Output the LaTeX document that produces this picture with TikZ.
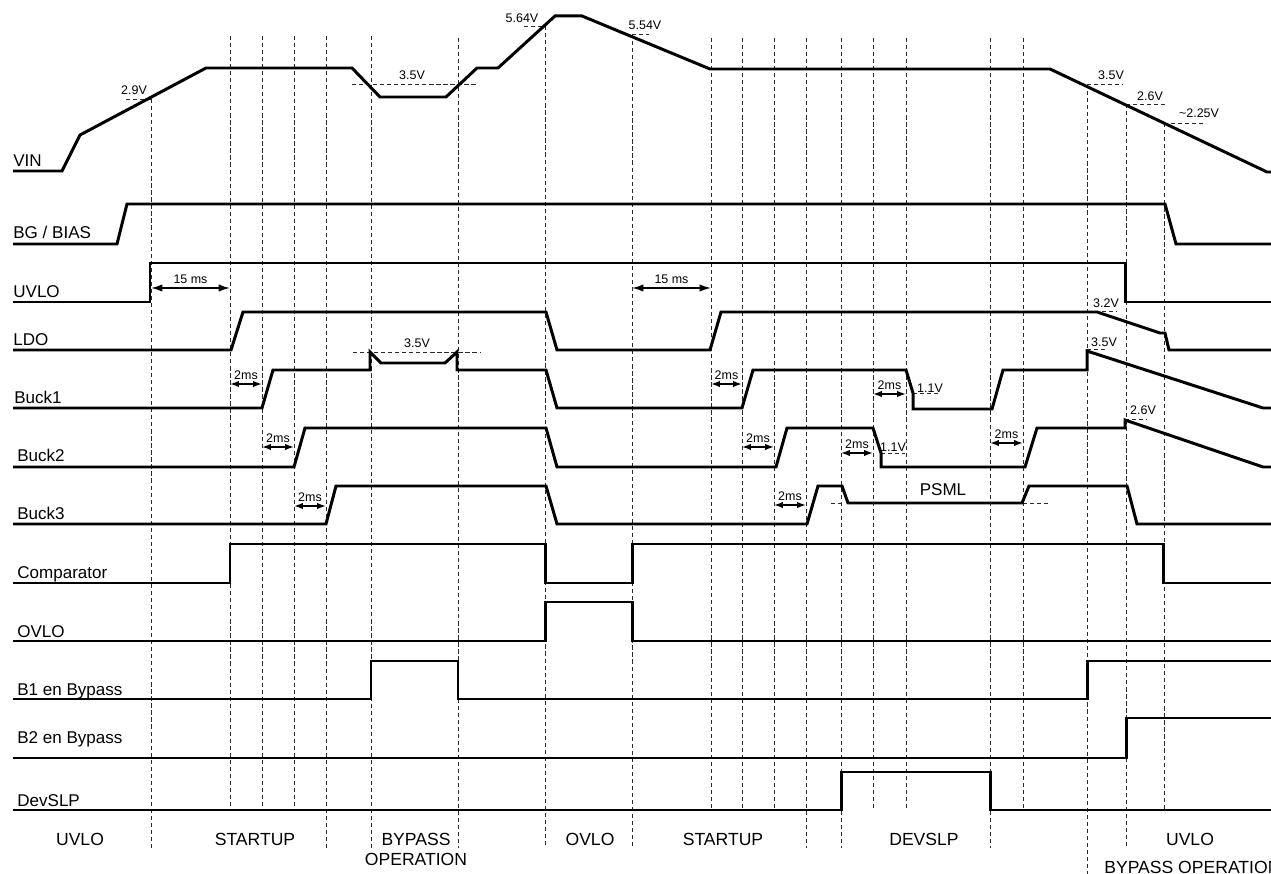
\documentclass[tikz,border=0pt]{standalone}
\usepackage{fontspec}
\setmainfont{Liberation Sans}
\usetikzlibrary{arrows.meta}
\definecolor{TraceInk}{HTML}{000000}
\definecolor{GuideGrey}{HTML}{2A2A2A}
\newcommand{\timegap}[6][gap arrow]{%
  \draw[#1] (#3,#5) -- (#4,#5);
  \node[value label] (#2) at ({(#3+#4)/2},{#5-9}) {#6};
}

\begin{document}
\begin{tikzpicture}[
  x=0.02cm,
  y=-0.02cm,
  >=Latex,
  wave/.style={draw=TraceInk,line width=1.7pt,line join=miter},
  guideline/.style={draw=GuideGrey,line width=0.55pt,dash pattern=on 2.4pt off 1.6pt},
  gap arrow/.style={{Latex[length=5pt,width=3.6pt]}-{Latex[length=5pt,width=3.6pt]},
    draw=TraceInk,line width=0.9pt},
  long gap/.style={gap arrow,{Latex[length=6.5pt,width=4.2pt]}-{Latex[length=6.5pt,width=4.2pt]}},
  signal label/.style={font=\fontsize{9.7}{11}\selectfont,anchor=base west,inner sep=0},
  phase label/.style={font=\fontsize{10}{12}\selectfont,anchor=base,inner sep=0},
  value label/.style={font=\fontsize{7.1}{8}\selectfont,inner sep=0}
]
  \useasboundingbox (0,0) rectangle (1271,874);

  \foreach \gx/\gtop/\gbot in {151/99/848,230/36/810,262/36/810,294/36/810,326/36/848,
    371/36/848,458/38/848,545/26/848,632/34/848,711/38/810,742/38/810,774/38/810,
    806/38/848,841/38/848,873/38/810,906/38/810,990/38/848,1023/38/810,1087/84/874,
    1126/104/848,1164/123/810} {
    \draw[guideline] (\gx,\gtop) -- (\gx,\gbot);
  }

  \foreach \lx/\rx/\ly in {126/151/99,352/477/84,524/545/26,632/649/34,1087/1123/84,
    1126/1165/104,1164/1204/123,1088/1117/311,353/480/352,913/938/393,881/905/453,
    1087/1108/349,1125/1147/419,831/842/503,1023/1048/503} {
    \draw[guideline] (\lx,\ly) -- (\rx,\ly);
  }

  \draw[wave] (13,171) -- (62,171) -- (80,135) -- (206,68) -- (352,68) -- (380,97)
    -- (446,97) -- (477,68) -- (498,68) -- (555,16) -- (582,16) -- (710,69)
    -- (1050,69) -- (1267,172) -- (1271,172);
  \draw[wave] (13,244) -- (117,244) -- (127,204) -- (1165,204) -- (1176,244) -- (1271,244);
  \draw[wave] (13,302) -- (150,302) -- (150,263) -- (1125,263) -- (1125,302) -- (1271,302);
  \draw[wave] (13,350) -- (231,350) -- (243,312) -- (546,312) -- (557,350) -- (710,350)
    -- (721,312) -- (1097,312) -- (1160,333) -- (1165,333) -- (1169,350) -- (1271,350);
  \draw[wave] (13,408) -- (262,408) -- (273,370) -- (370,370) -- (370,352) -- (381,363)
    -- (445,363) -- (457,352) -- (457,370) -- (546,370) -- (557,408) -- (742,408)
    -- (753,370) -- (906,370) -- (913,393) -- (913,409) -- (992,409) -- (1003,370)
    -- (1087,370) -- (1087,351) -- (1263,408) -- (1271,408);
  \draw[wave] (13,467) -- (294,467) -- (305,428) -- (546,428) -- (557,467) -- (776,467)
    -- (787,428) -- (873,428) -- (881,453) -- (881,467) -- (1025,467) -- (1037,428)
    -- (1125,428) -- (1125,420) -- (1263,467) -- (1271,467);
  \draw[wave] (13,524) -- (326,524) -- (336,486) -- (546,486) -- (557,524) -- (807,524)
    -- (818,486) -- (842,486) -- (848,503) -- (1022,503) -- (1029,486) -- (1127,486)
    -- (1137,524) -- (1271,524);
  \draw[wave] (13,583) -- (230,583) -- (230,544) -- (545,544) -- (545,583) -- (632,583)
    -- (632,544) -- (1163,544) -- (1163,583) -- (1271,583);
  \draw[wave] (13,641) -- (545,641) -- (545,602) -- (632,602) -- (632,641) -- (1271,641);
  \draw[wave] (13,699) -- (371,699) -- (371,661) -- (458,661) -- (458,699) -- (1087,699)
    -- (1087,661) -- (1271,661);
  \draw[wave] (13,758) -- (1126,758) -- (1126,718) -- (1271,718);
  \draw[wave] (13,810) -- (841,810) -- (841,772) -- (990,772) -- (990,810) -- (1271,810);

  \foreach \sname/\stext/\sx/\sy in {vin/VIN/13/167,bias/{BG / BIAS}/13/239,
    uvlo/UVLO/13/298,ldo/LDO/13/346,buckone/Buck1/14/404,bucktwo/Buck2/17/462,
    buckthree/Buck3/17/520,comp/Comparator/17/579,ovlo/OVLO/17/637,
    bonebyp/{B1 en Bypass}/17/695,btwobyp/{B2 en Bypass}/17/743,devslp/DevSLP/17/806} {
    \node[signal label] (\sname) at (\sx,\sy) {\stext};
  }

  \foreach \pname/\ptext/\px/\py in {ph-uvlo/UVLO/80/845,ph-start/STARTUP/255/845,
    ph-byp/BYPASS/416/845,ph-oper/OPERATION/416/865,ph-ovlo/OVLO/590/845,
    ph-restart/STARTUP/723/845,ph-devslp/DEVSLP/924/845,ph-uvlob/UVLO/1190/845} {
    \node[phase label] (\pname) at (\px,\py) {\ptext};
  }
  \node[phase label,anchor=base west] (ph-bypop) at (1104,873) {BYPASS OPERATION};

  \foreach \vname/\vtext/\vx/\vy in {v-start/2.9V/134/90.5,v-dip/3.5V/412/75,
    v-peak/5.64V/522/18,v-fall/5.54V/645/25.5,v-low/3.5V/1111/75,v-lower/2.6V/1150/96,
    v-end/{\textasciitilde2.25V}/1199/113,v-ldo/3.2V/1106/303,v-bone/3.5V/417/343,
    v-bsleep/1.1V/930/388,v-btsleep/1.1V/893/447,v-bonebyp/3.5V/1104/342,
    v-btwobyp/2.6V/1143/410} {
    \node[value label] (\vname) at (\vx,\vy) {\vtext};
  }
  \node[font=\fontsize{9.7}{11}\selectfont,inner sep=0] (psml) at (943,490) {PSML};

  \timegap[long gap]{t-uvlo}{151}{230}{288}{15 ms}
  \timegap[long gap]{t-ovlo}{632}{711}{288}{15 ms}
  \timegap{t-a}{230}{262}{384}{2ms}
  \timegap{t-b}{262}{294}{447}{2ms}
  \timegap{t-c}{294}{326}{506}{2ms}
  \timegap{t-d}{711}{742}{384}{2ms}
  \timegap{t-e}{742}{774}{447}{2ms}
  \timegap{t-f}{774}{806}{505}{2ms}
  \timegap{t-g}{873}{906}{394}{2ms}
  \timegap{t-h}{841}{873}{453}{2ms}
  \timegap{t-i}{990}{1023}{443}{2ms}
\end{tikzpicture}
\end{document}
